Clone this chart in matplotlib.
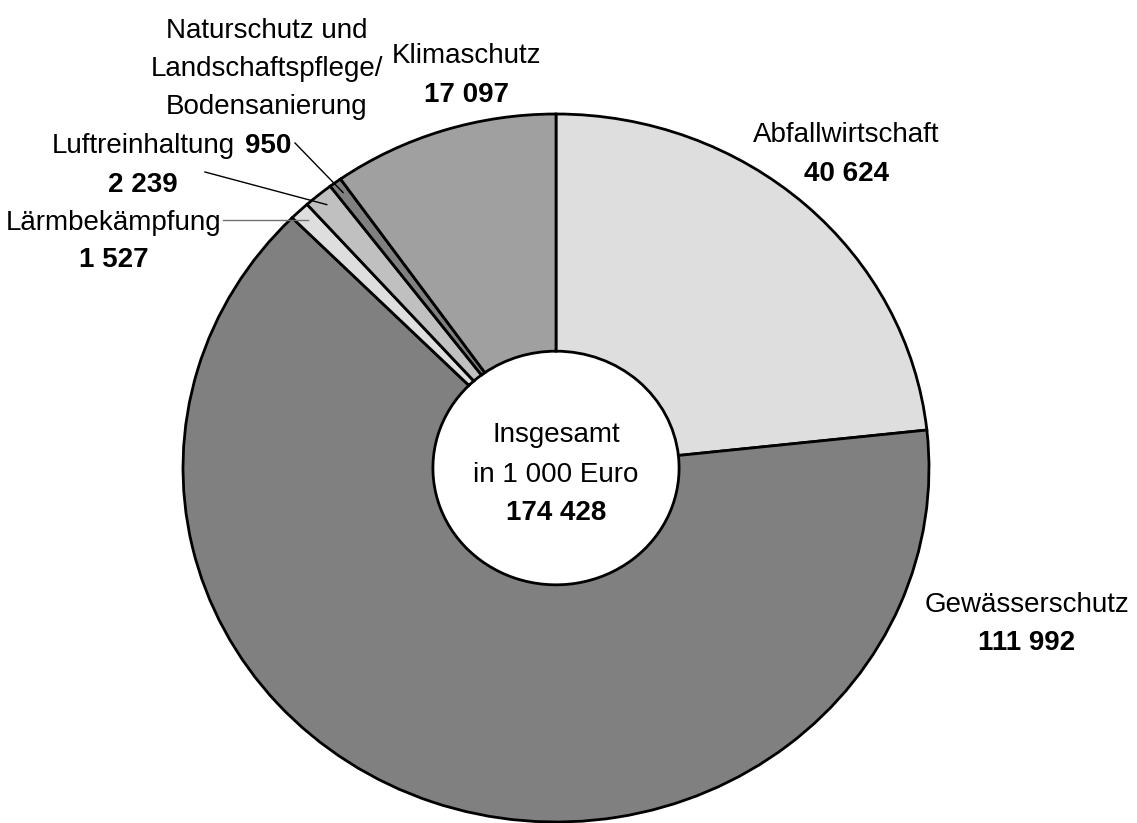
import numpy as np
import matplotlib.pyplot as plt

plt.rcParams['font.family'] = ['Liberation Sans', 'DejaVu Sans']

# data (1 000 Euro), clockwise from the top
labels = ['Abfallwirtschaft', 'Gewässerschutz', 'Lärmbekämpfung', 'Luftreinhaltung',
          'Naturschutz und\nLandschaftspflege/\nBodensanierung', 'Klimaschutz']
values = [40624, 111992, 1527, 2239, 950, 17097]
value_text = ['40 624', '111 992', '1 527', '2 239', '950', '17 097']
colors = ['#dedede', '#808080', '#dedede', '#c0c0c0', '#808080', '#a0a0a0']
total_text = '174 428'

W, H = 1137, 823
fig = plt.figure(figsize=(W / 100, H / 100), dpi=100)
ax = fig.add_axes([0, 0, 1, 1])

# pie centre and radii in pixels (pie is a bit squashed vertically)
cx, cy, rx, ry = 556, 468, 373, 354

wedges, _ = ax.pie(values, colors=colors, startangle=90, counterclock=False,
                   radius=1.0, wedgeprops=dict(width=0.67, edgecolor='black', linewidth=2.0))
ax.set_aspect('auto')
ax.set_xlim(-cx / rx, (W - cx) / rx)
ax.set_ylim(-(H - cy) / ry, cy / ry)
ax.axis('off')


def px(x, y):
    return (x - cx) / rx, (cy - y) / ry


fs = 20


def label(x, y, name, val, step=38.5):
    lines = name.split('\n')
    for i, ln in enumerate(lines):
        ax.text(*px(x, y + i * step), ln, ha='center', va='baseline', fontsize=fs)
    ax.text(*px(x, y + len(lines) * step), val, ha='center', va='baseline',
            fontsize=fs, fontweight='bold')


label(846, 142, labels[0], value_text[0])
label(1027, 612, labels[1], value_text[1])
label(114, 230, labels[2], value_text[2], step=37)
label(143, 153, labels[3], value_text[3], step=39)
label(466, 63, labels[5], value_text[5], step=39)

# Naturschutz: three lines, value under them
nat_lines = labels[4].split('\n')
for i, ln in enumerate(nat_lines):
    ax.text(*px(267, 38 + i * 38), ln, ha='center', va='baseline', fontsize=fs)
ax.text(*px(268, 153), value_text[4], ha='center', va='baseline', fontsize=fs, fontweight='bold')


# leader lines to the small slices
def mid_point(w, r=0.965):
    a = np.deg2rad((w.theta1 + w.theta2) / 2)
    return r * np.cos(a), r * np.sin(a)


leaders = [(wedges[4], (295, 143), 'black'),
           (wedges[3], (205, 172), 'black'),
           (wedges[2], (223, None), '#707070')]
for w, (sx, sy), col in leaders:
    ex, ey = mid_point(w)
    x0, y0 = px(sx, sy if sy is not None else 0)
    if sy is None:
        y0 = ey
    ax.plot([x0, ex], [y0, ey], color=col, linewidth=1.0)

# centre text
ax.text(*px(556, 442), 'Insgesamt', ha='center', va='baseline', fontsize=fs)
ax.text(*px(556, 482), 'in 1 000 Euro', ha='center', va='baseline', fontsize=fs)
ax.text(*px(556, 520), total_text, ha='center', va='baseline', fontsize=fs, fontweight='bold')

fig.savefig('out.png', dpi=100)
